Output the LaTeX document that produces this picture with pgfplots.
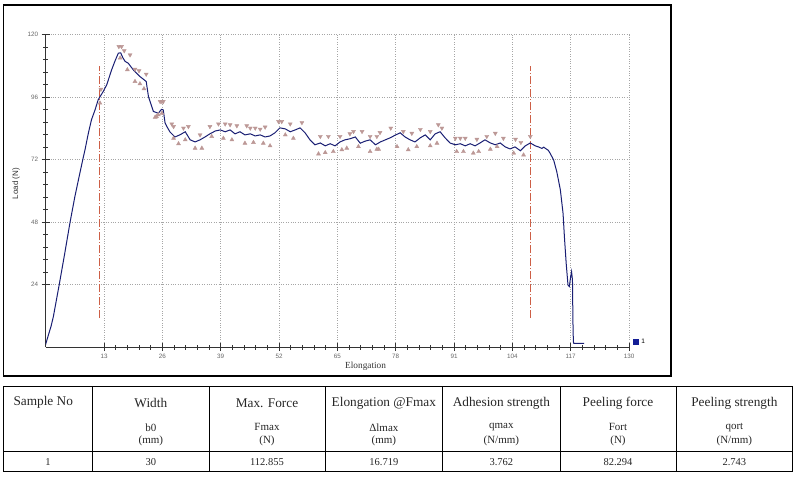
\documentclass[border=0pt]{standalone}
\usepackage{pgfplots}
\pgfplotsset{compat=1.18}
\usepackage{fontspec}
\setmainfont{Liberation Serif}
\setsansfont{Liberation Sans}
\definecolor{curve}{RGB}{25,30,115}
\definecolor{tricol}{RGB}{188,152,150}
\definecolor{dashred}{RGB}{205,95,70}
\definecolor{legblue}{RGB}{20,30,150}
\begin{document}
\begin{tikzpicture}
\path[use as bounding box] (0,0) rectangle (800pt,480pt);
\begin{scope}[x=1pt,y=1pt]
\draw[line width=1.5pt] (3.3,475) rectangle (671,104);
% table
\draw[line width=1.2pt] (3.3,93.3) rectangle (792.7,8.3);
\foreach \xx in {92.7,209,325,442.7,560,676}{\draw[line width=0.9pt] (\xx,93.3) -- (\xx,8.3);}
\draw[line width=0.9pt] (3.3,28.3) -- (792.7,28.3);
\begin{scope}[every node/.style={text=black!85, inner sep=0pt}]
\tikzset{hd/.style={font=\fontsize{13.3}{14}\selectfont}, sb/.style={font=\fontsize{11}{12}\selectfont}, dt/.style={font=\fontsize{10.5}{12}\selectfont}}
\node[hd,anchor=west] at (13.3,77.5) {Sample No};
\node[hd] at (150.85,77) {Width};
\node[hd] at (267,77) {Max. Force};
\node[hd] at (383.85,77) {Elongation @Fmax};
\node[hd] at (501.35,77) {Adhesion strength};
\node[hd] at (618,77) {Peeling force};
\node[hd] at (734.35,77) {Peeling strength};
\node[sb] at (150.85,52.7) {b0}; \node[sb] at (150.85,39.3) {(mm)};
\node[sb] at (267,52.7) {Fmax}; \node[sb] at (267,39.3) {(N)};
\node[sb] at (383.85,52.7) {Δlmax}; \node[sb] at (383.85,39.3) {(mm)};
\node[sb] at (501.35,52.7) {qmax}; \node[sb] at (501.35,39.3) {(N/mm)};
\node[sb] at (618,52.7) {Fort}; \node[sb] at (618,39.3) {(N)};
\node[sb] at (734.35,52.7) {qort}; \node[sb] at (734.35,39.3) {(N/mm)};
\node[dt] at (48,17.7) {1};
\node[dt] at (150.85,17.7) {30};
\node[dt] at (267,17.7) {112.855};
\node[dt] at (383.85,17.7) {16.719};
\node[dt] at (501.35,17.7) {3.762};
\node[dt] at (618,17.7) {82.294};
\node[dt] at (734.35,17.7) {2.743};
\end{scope}
\node[rotate=90, font=\sffamily\fontsize{8}{9}\selectfont, text=black!80] at (16,296.5) {Load (N)};
\node[anchor=west, font=\fontsize{9.3}{10}\selectfont, text=black!80, inner sep=0pt] at (345,114) {Elongation};
\end{scope}
\begin{axis}[
  at={(45.7pt,133pt)}, anchor=south west, scale only axis,
  width=583.3pt, height=312.7pt,
  xmin=0, xmax=130, ymin=0, ymax=120,
  xtick={13,26,...,130}, ytick={24,48,...,120},
  minor x tick num=4, minor y tick num=4,
  axis x line*=bottom, axis y line*=left,
  axis line style={-, black!80, line width=0.8pt},
  tick align=center, major tick length=8pt, minor tick length=5pt,
  every tick/.style={black!80, line width=0.6pt},
  grid=major, major grid style={black!35, dotted, line width=0.6pt},
  /pgf/number format/assume math mode=true,
  tick label style={font=\sffamily\fontsize{6.3}{7}\selectfont, text=black!60},
  legend style={at={(rel axis cs:1.007,0.0144)}, anchor=west, draw=none, fill=none,
    font=\sffamily\fontsize{6.5}{7}\selectfont, inner sep=0pt},
  legend image code/.code={\fill[legblue] (0pt,-2.5pt) rectangle (5pt,2.5pt);},
]
\addplot[dashred, line width=1pt, dash pattern=on 8pt off 2pt on 1pt off 2pt, forget plot] coordinates {(11.93,11.1) (11.93,108)};
\addplot[dashred, line width=1pt, dash pattern=on 8pt off 2pt on 1pt off 2pt, forget plot] coordinates {(108.05,11.1) (108.05,108)};
\addplot[only marks, mark=triangle*, mark size=2.3pt, mark options={rotate=180, fill=tricol, draw=tricol}, forget plot] coordinates {
(16.3,115.3) (16.9,115.3) (17.5,113.7) (18.8,112.1) (19.9,106.6) (20.8,106.0) (22.4,104.7)
(12.3,98.9) (25.5,94.2) (25.9,94.2) (26.2,94.2) (28.1,85.6) (28.5,84.6) (30.7,84.0) (31.8,84.6)
(34.4,81.4) (36.6,84.6) (38.5,85.6) (40.0,85.6) (41.1,85.3) (42.6,84.9) (44.8,84.9) (45.6,84.0) (46.7,84.0)
(47.8,83.6) (48.9,84.4) (51.9,86.5) (52.6,86.5) (54.5,85.6) (57.1,86.1) (61.2,80.8) (63.0,80.8)
(65.6,80.8) (67.8,81.8) (68.6,82.7) (70.5,82.7) (72.3,80.8) (73.8,80.8) (74.5,82.3) (76.9,84.0)
(79.7,82.7) (81.6,82.0) (83.5,83.5) (85.7,82.7) (87.5,85.3) (88.3,84.0) (91.3,80.1) (92.4,80.1)
(93.5,80.1) (96.1,79.7) (98.3,80.8) (100.2,82.0) (102.0,80.1) (104.7,79.7) (105.9,78.5) (108.0,80.8)
};
\addplot[only marks, mark=triangle*, mark size=2.3pt, mark options={fill=tricol, draw=tricol}, forget plot] coordinates {
(16.6,110.9) (18.2,106.4) (19.9,101.9) (21.0,101.0) (21.9,99.1) (12.1,93.6) (24.4,88.2) (24.7,88.4)
(25.1,89.1) (25.9,89.7) (28.5,80.1) (29.6,78.0) (31.1,79.5) (33.3,76.3) (34.8,76.3) (37.0,80.8)
(39.6,80.1) (41.5,79.5) (44.4,78.2) (46.3,78.5) (48.5,78.2) (50.0,77.2) (53.4,81.4) (55.2,80.1)
(60.8,74.1) (62.3,74.6) (64.1,75.0) (66.0,75.7) (67.1,76.3) (69.7,76.9) (72.3,75.0) (73.8,75.9)
(74.2,75.9) (78.3,76.9) (80.8,75.7) (82.7,76.9) (85.7,77.2) (87.2,78.2) (91.6,75.0) (93.1,75.0)
(95.3,74.4) (96.5,75.0) (99.1,75.9) (100.6,76.9) (104.3,74.4) (106.5,73.7)
};
\addplot[curve, line width=1pt] coordinates {
(0.0,1.0) (0.07,1.5) (0.6,4.6) (1.2,8.0) (1.7,11.6) (3.0,23.8) (4.2,35.5) (5.4,47.6) (6.5,57.7)
(7.4,65.0) (8.25,71.8) (8.8,76.0) (9.5,82.0) (10.2,87.2) (11.0,91.0) (11.7,94.9) (12.8,98.0)
(13.6,100.6) (14.7,106.4) (15.5,110.0) (16.2,112.8) (16.72,112.86) (17.2,111.0) (17.7,109.6)
(18.4,108.9) (19.5,106.4) (21.0,103.8) (22.4,101.9) (22.9,96.1) (24.0,90.4) (25.1,89.7) (25.8,91.2)
(26.2,91.0) (26.6,86.0) (27.0,84.6) (27.7,82.5) (28.8,80.6) (29.9,81.4) (31.1,82.6) (32.2,79.5)
(33.3,78.7) (34.4,79.5) (35.5,80.6) (36.6,81.8) (37.8,82.9) (38.9,83.3) (40.0,82.6) (41.1,83.3)
(42.2,81.8) (43.3,82.6) (44.4,81.4) (45.6,81.8) (46.7,81.0) (47.8,81.4) (48.9,80.6) (50.0,81.0)
(51.1,82.2) (52.2,84.1) (53.4,83.7) (54.5,82.6) (55.6,83.3) (56.7,84.1) (57.8,82.2) (58.9,79.5)
(60.0,77.6) (61.2,78.3) (62.3,77.2) (63.4,78.0) (64.5,77.2) (65.6,78.7) (66.7,79.5) (67.8,79.9)
(69.0,80.6) (70.1,78.2) (71.2,79.0) (72.3,79.5) (73.5,77.6) (74.6,78.7) (75.7,79.5) (76.8,80.3)
(77.9,81.3) (79.0,82.2) (80.1,80.6) (81.2,79.5) (82.3,78.7) (83.5,80.3) (84.6,81.4) (85.7,79.5)
(86.8,81.8) (87.9,82.6) (89.0,80.3) (90.1,78.3) (91.3,77.6) (92.4,78.0) (93.5,77.2) (94.6,78.0)
(95.7,77.2) (96.8,78.3) (97.9,79.5) (99.1,78.3) (100.2,77.6) (101.3,78.3) (102.4,76.8) (103.5,76.0)
(104.6,76.8) (105.8,75.3) (106.9,77.2) (108.0,78.3) (109.1,77.2) (109.8,76.8) (110.6,76.2)
(111.0,76.7) (111.3,76.3) (112.0,75.5) (112.4,74.4) (113.2,71.8) (113.9,67.3) (114.7,60.3)
(115.3,51.3) (115.6,42.4) (116.0,32.1) (116.4,23.8) (116.7,23.2) (117.0,27.0) (117.2,28.9)
(117.4,25.7) (117.5,10.0) (117.6,2.0) (117.7,1.4) (120.0,1.4)
};
\addlegendentry{1}
\end{axis}
\end{tikzpicture}
\end{document}
